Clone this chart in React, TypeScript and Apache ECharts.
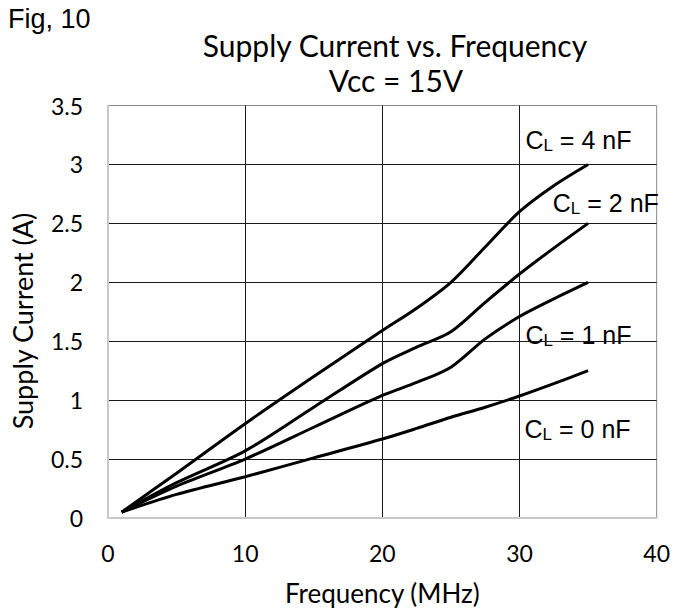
import React, { useEffect, useRef } from "react";
import * as echarts from "echarts";

// Frequency points (MHz) shared by all curves
const freqMHz = [1, 5, 10, 15, 20, 22.5, 25, 27.5, 30, 32.5, 35];

// Supply current (A) for each load capacitance
const current0nF = [0.05, 0.2, 0.35, 0.51, 0.67, 0.76, 0.855, 0.94, 1.035, 1.14, 1.25];
const current1nF = [0.05, 0.27, 0.5, 0.77, 1.04, 1.15, 1.28, 1.52, 1.71, 1.86, 2.0];
const current2nF = [0.05, 0.3, 0.57, 0.94, 1.31, 1.45, 1.58, 1.83, 2.07, 2.29, 2.5];
const current4nF = [0.05, 0.38, 0.8, 1.2, 1.59, 1.78, 2.0, 2.3, 2.6, 2.82, 3.0];

const seriesNames = ["CL = 0 nF", "CL = 1 nF", "CL = 2 nF", "CL = 4 nF"];
const seriesValues = [current0nF, current1nF, current2nF, current4nF];

// Curve labels: capacitance value and anchor in data coordinates
const labelCap = ["0", "1", "2", "4"];
const labelFreq = [30.37, 30.43, 32.43, 30.43];
const labelCurrent = [0.751, 1.556, 2.67, 3.209];

const xMin = 0;
const xMax = 40;
const xStep = 10;
const yMin = 0;
const yMax = 3.5;
const yStep = 0.5;

const calibriLike = "Lato, 'Open Sans', sans-serif";
const arialLike = "'Liberation Sans', Arial, sans-serif";

export default function App() {
  const ref = useRef<HTMLDivElement>(null);

  useEffect(() => {
    if (!ref.current) return;
    const chart = echarts.init(ref.current, null, { renderer: "svg" });

    const staticGraphics: any[] = [
      {
        type: "text",
        left: 8,
        top: 5,
        style: { text: "Fig, 10", fontFamily: arialLike, fontSize: 27, fill: "#000" },
      },
      {
        type: "text",
        x: 22,
        y: 321,
        rotation: Math.PI / 2,
        style: {
          text: "Supply Current (A)",
          fontFamily: calibriLike,
          fontSize: 27,
          fill: "#000",
          align: "center",
          verticalAlign: "middle",
        },
      },
    ];

    const option: any = {
      animation: false,
      backgroundColor: "#ffffff",
      title: [
        {
          text: "Supply Current vs. Frequency",
          left: 390,
          top: 25,
          textAlign: "center",
          textStyle: { fontFamily: calibriLike, fontSize: 30, fontWeight: "normal", color: "#000" },
        },
        {
          text: "Vcc = 15V",
          left: 391,
          top: 60,
          textAlign: "center",
          textStyle: { fontFamily: calibriLike, fontSize: 30, fontWeight: "normal", color: "#000" },
        },
      ],
      grid: {
        left: 108,
        top: 105.5,
        right: 14.5,
        bottom: 91,
        show: true,
        borderColor: "#8a8a8a",
        borderWidth: 1,
        backgroundColor: "transparent",
      },
      xAxis: {
        type: "value",
        min: xMin,
        max: xMax,
        interval: xStep,
        name: "Frequency (MHz)",
        nameLocation: "middle",
        nameGap: 62,
        nameTextStyle: { fontFamily: calibriLike, fontSize: 26, color: "#000" },
        axisLine: { show: true, lineStyle: { color: "#c8c8c8", width: 2 } },
        axisTick: { show: false },
        axisLabel: { fontFamily: calibriLike, fontSize: 23, color: "#000", margin: 23 },
        splitLine: { show: true, showMinLine: false, showMaxLine: false, lineStyle: { color: "#1a1a1a", width: 1 } },
      },
      yAxis: {
        type: "value",
        min: yMin,
        max: yMax,
        interval: yStep,
        axisLine: { show: true, lineStyle: { color: "#c8c8c8", width: 2 } },
        axisTick: { show: false },
        axisLabel: { fontFamily: calibriLike, fontSize: 23, color: "#000", margin: 25 },
        splitLine: { show: true, showMinLine: false, showMaxLine: false, lineStyle: { color: "#1a1a1a", width: 1 } },
      },
      series: seriesValues.map((vals, i) => ({
        name: seriesNames[i],
        type: "line",
        data: freqMHz.map((f, j) => [f, vals[j]]),
        showSymbol: false,
        smooth: 0.3,
        lineStyle: { color: "#000", width: 3 },
        z: 3,
      })),
      graphic: staticGraphics,
    };

    chart.setOption(option);

    const labelGraphics = labelCap.map((cap, i) => {
      const [px, py] = chart.convertToPixel({ gridIndex: 0 }, [labelFreq[i], labelCurrent[i]]) as number[];
      return {
        type: "text",
        x: px,
        y: py,
        z: 10,
        style: {
          text: `{c|C}{s|L}{c| = ${cap} nF}`,
          align: "left",
          verticalAlign: "middle",
          fill: "#000",
          rich: {
            c: { fontFamily: arialLike, fontSize: 25, lineHeight: 28, fill: "#000" },
            s: { fontFamily: arialLike, fontSize: 17, lineHeight: 12, verticalAlign: "bottom", fill: "#000" },
          },
        },
      };
    });

    chart.setOption({ graphic: [...staticGraphics, ...labelGraphics] });

    return () => chart.dispose();
  }, []);

  return (
    <div
      ref={ref}
      style={{ position: "fixed", left: 0, top: 0, width: 673, height: 611 }}
    />
  );
}
